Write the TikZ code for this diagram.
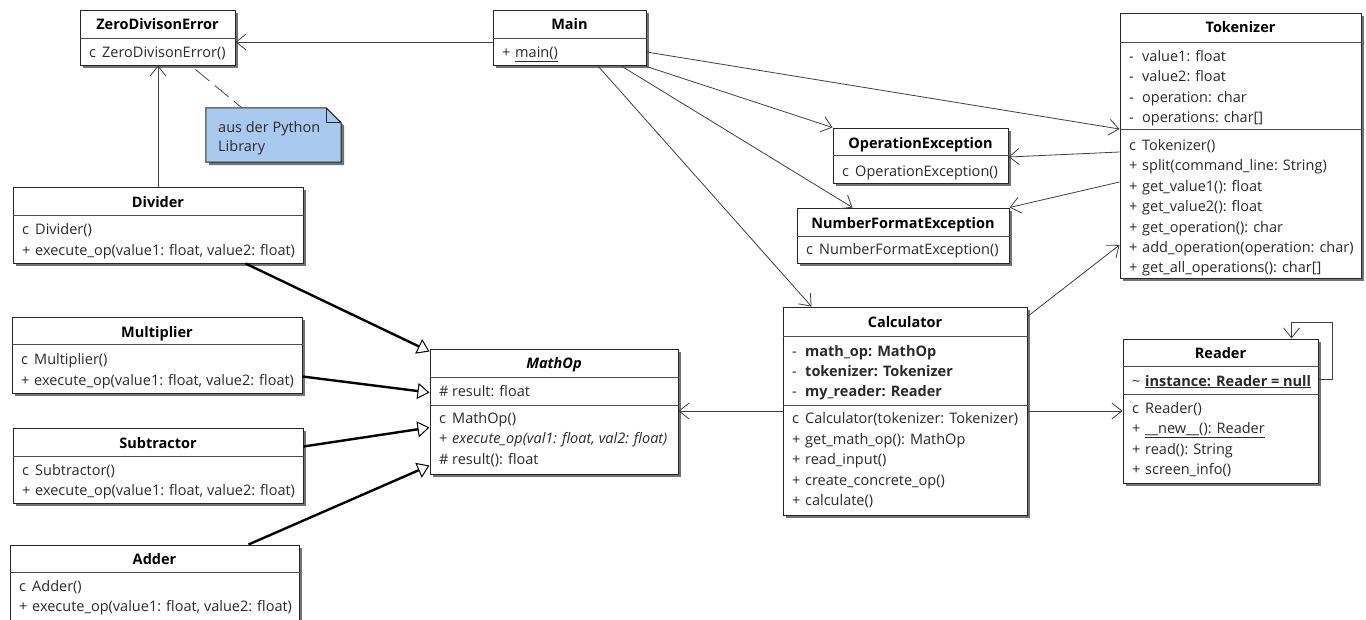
\documentclass[tikz,border=0pt]{standalone}
\usepackage{fontspec}
\setmainfont{Open Sans}
\usetikzlibrary{arrows.meta,fit,calc}
\definecolor{txt}{HTML}{2A2A2A}
\definecolor{notefill}{HTML}{A9C9EE}
\tikzset{
  every node/.style={font=\fontsize{14.5}{17}\selectfont, text=txt, inner sep=0pt},
  box/.style={draw=black!85, line width=1pt, fill=white, inner sep=0pt},
  shade/.style={fill=black!55},
  sepline/.style={draw=black!70, line width=0.8pt},
  title/.style={font=\fontsize{14.5}{17}\selectfont\bfseries, text=black, anchor=base},
  mem/.style={anchor=base west},
  assoc/.style={draw=black!75, line width=0.8pt, -{Straight Barb[length=10pt,width=16pt]}},
  inherit/.style={draw=black, line width=2.4pt, -{Triangle[length=12pt,width=16pt,fill=white,line width=1pt]}},
  notebox/.style={draw=black!85, line width=1pt, fill=notefill},
}
\newcommand\umlbox[7]{%
  \fill[shade] ({#2+3},{#3+3}) rectangle ({#4+3},{#5+3});
  \node[box, fit={(#2,#3) (#4,#5)}] (#1) {};
  \node[title] (#1-title) at ({(#2+#4)/2},#6) {#7};
}
\newcommand\sepl[2]{\draw[sepline] (#1.west |- 0,#2) -- (#1.east |- 0,#2);}
\newcommand\members[6]{%
  \foreach \s/\t [count=\i] in {#5} {
    \node[mem] (#1-#6s\i) at ({#2+9},{#3+(\i-1)*#4}) {\s};
    \node[mem] (#1-#6t\i) at ({#2+22},{#3+(\i-1)*#4}) {\t};
  }%
}
\begin{document}
\begin{tikzpicture}[x=1pt,y=-1pt]
\fill[white] (0,0) rectangle (1366,619);
\useasboundingbox (0,0) rectangle (1366,619);

% ZeroDivisonError
\umlbox{zde}{80}{10}{235}{65}{29}{ZeroDivisonError}
\sepl{zde}{38}
\members{zde}{80}{57}{20.5}{c/ZeroDivisonError()}{m}

% Main
\umlbox{main}{493}{10}{646}{65}{29}{Main}
\sepl{main}{38}
\members{main}{493}{57.5}{20.5}{+/\underline{main()}}{m}

% Tokenizer
\umlbox{tok}{1120}{13}{1361}{278}{32.5}{Tokenizer}
\sepl{tok}{42}
\sepl{tok}{129}
\members{tok}{1120}{61}{20.5}{-/{value1: float}, -/{value2: float}, -/{operation: char}, -/{operations: char[]}}{a}
\members{tok}{1120}{150.5}{20.4}{c/Tokenizer(), +/{split(command\_line: String)}, +/{get\_value1(): float}, +/{get\_value2(): float}, +/{get\_operation(): char}, +/{add\_operation(operation: char)}, +/{get\_all\_operations(): char[]}}{m}

% OperationException
\umlbox{opex}{833}{128}{1008}{183}{148}{OperationException}
\sepl{opex}{155}
\members{opex}{833}{176}{20.5}{c/OperationException()}{m}

% NumberFormatException
\umlbox{nfe}{797}{208}{1009}{263}{228}{NumberFormatException}
\sepl{nfe}{236}
\members{nfe}{797}{254.5}{20.5}{c/NumberFormatException()}{m}

% Calculator
\umlbox{calc}{783}{307}{1027}{515}{327}{Calculator}
\sepl{calc}{336}
\sepl{calc}{405}
\members{calc}{783}{356}{20}{-/\textbf{math\_op: MathOp}, -/\textbf{tokenizer: Tokenizer}, -/\textbf{my\_reader: Reader}}{a}
\members{calc}{783}{423.5}{20.6}{c/{Calculator(tokenizer: Tokenizer)}, +/{get\_math\_op(): MathOp}, +/read\_input(), +/create\_concrete\_op(), +/calculate()}{m}

% Reader
\umlbox{reader}{1123}{339}{1318}{483}{358}{Reader}
\sepl{reader}{366}
\sepl{reader}{394}
\members{reader}{1123}{386}{20.5}{\textasciitilde/{\underline{\textbf{instance: Reader = null}}}}{a}
\members{reader}{1123}{413.5}{20.4}{c/Reader(), +/{\underline{\_\_new\_\_(): Reader}}, +/{read(): String}, +/screen\_info()}{m}

% MathOp
\umlbox{mathop}{430}{349}{678}{474}{368}{\textit{MathOp}}
\sepl{mathop}{377}
\sepl{mathop}{405}
\members{mathop}{430}{396}{20.5}{\#/{result: float}}{a}
\members{mathop}{430}{423.5}{20.4}{c/MathOp(), +/{\textit{execute\_op(val1: float, val2: float)}}, \#/{result(): float}}{m}

% Divider
\umlbox{divider}{13}{187}{303}{263}{207.5}{Divider}
\sepl{divider}{215}
\members{divider}{13}{234.5}{20.7}{c/Divider(), +/{execute\_op(value1: float, value2: float)}}{m}

% Multiplier
\umlbox{mult}{12}{317}{302}{393}{337}{Multiplier}
\sepl{mult}{344}
\members{mult}{12}{364.5}{20.5}{c/Multiplier(), +/{execute\_op(value1: float, value2: float)}}{m}

% Subtractor
\umlbox{sub}{13}{428}{303}{503}{448}{Subtractor}
\sepl{sub}{456}
\members{sub}{13}{475}{20.8}{c/Subtractor(), +/{execute\_op(value1: float, value2: float)}}{m}

% Adder
\umlbox{adder}{10}{545}{299}{624}{564}{Adder}
\sepl{adder}{572}
\members{adder}{10}{591}{20.6}{c/Adder(), +/{execute\_op(value1: float, value2: float)}}{m}

% Note
\node[fit={(206,108) (341,162)}, inner sep=0pt] (note) {};
\fill[shade] ($(note.north west)+(3,3)$) -- ($(note.north east)+(-12,3)$) -- ($(note.north east)+(3,18)$) -- ($(note.south east)+(3,3)$) -- ($(note.south west)+(3,3)$) -- cycle;
\draw[notebox] (note.north west) -- ($(note.north east)+(-15,0)$) -- ($(note.north east)+(0,15)$) -- (note.south east) -- (note.south west) -- cycle;
\draw[draw=black!85, line width=1pt] ($(note.north east)+(-15,0)$) -- ($(note.north east)+(-15,15)$) -- ($(note.north east)+(0,15)$);
\node[mem] (note-l1) at (218,132) {aus der Python};
\node[mem] (note-l2) at (218,151) {Library};
\draw[draw=black!70, line width=0.8pt, dash pattern=on 18pt off 7pt] ([xshift=38pt,yshift=-4pt]zde.south) -- ([xshift=36pt]note.north west);

% Associations
\draw[assoc] ([yshift=-4.5pt]main.west) -- ([yshift=-4.5pt]zde.east);
\draw[assoc] (divider.north) -- (divider.north |- zde.south);
\draw[assoc] ([yshift=-14.5pt]main.east) -- ([yshift=16.5pt]tok.west);
\draw[assoc] ([yshift=-1pt]main.south east) -- (opex.north west);
\draw[assoc] ([xshift=-26pt]main.south east) -- ([xshift=56pt]nfe.north west);
\draw[assoc] ([xshift=-49pt]main.south east) -- ([xshift=29pt]calc.north west);
\draw[assoc] ([yshift=-6.5pt]tok.west) -- ([yshift=-1.5pt]opex.east);
\draw[assoc] ([yshift=-36.5pt]tok.west) -- (nfe.north east);
\draw[assoc] ([yshift=-10pt]calc.north east) -- ([yshift=-99.5pt]tok.west);
\draw[assoc] (calc.west) -- (calc.west -| mathop.east);
\draw[assoc] (calc.east) -- (calc.east -| reader.west);
\draw[assoc] ([yshift=-41pt]reader.north east) -- ++(14,0) |- ([xshift=-27pt,yshift=16pt]reader.north east) -- ([xshift=-27pt]reader.north east);

% Inheritance
\draw[inherit] ([xshift=-58pt]divider.south east) -- ([yshift=-3pt]mathop.north west);
\draw[inherit] ([yshift=-60pt]mult.north east) -- ([yshift=-44pt]mathop.north west);
\draw[inherit] ([yshift=-19pt]sub.north east) -- ([yshift=-79pt]mathop.north west);
\draw[inherit] ([xshift=-51pt]adder.north east) -- ([yshift=9pt]mathop.south west);
\end{tikzpicture}
\end{document}
